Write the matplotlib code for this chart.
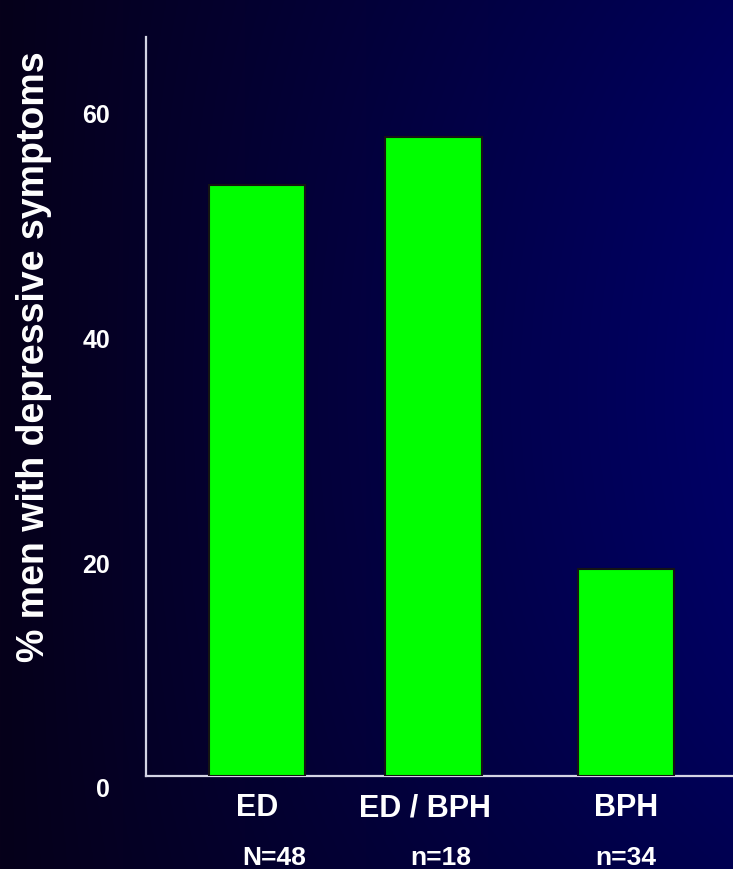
import numpy as np
import matplotlib
matplotlib.use("Agg")
import matplotlib.pyplot as plt
from matplotlib.transforms import ScaledTranslation

plt.rcParams["font.family"] = ["Liberation Sans", "DejaVu Sans"]
plt.rcParams["font.weight"] = "bold"

groups = ["ED", "ED / BPH", "BPH"]
group_sizes = ["N=48", "n=18", "n=34"]
pct_depressed = [52.5, 56.8, 18.4]
y_ticks = [0, 20, 40, 60]

# layout: bar centres and where the text under each bar sits
bar_x = [0.0, 1.0, 2.09]
group_label_x = [0.0, 0.95, 2.09]
size_label_x = [0.10, 1.04, 2.09]

W, H = 733, 870
fig = plt.figure(figsize=(W / 100, H / 100), dpi=100)

# dark navy background, brighter towards the right
bg = fig.add_axes([0, 0, 1, 1], zorder=-10)
xx, yy = np.meshgrid(np.linspace(0, 1, 300), np.linspace(0, 1, 300))
blue = 26 + 76 * xx - 70 * xx * (yy - 0.45) ** 2
red = 6 * (1 - xx)
img = np.dstack([red, np.zeros_like(xx), blue]) / 255.0
bg.imshow(img, aspect="auto", extent=[0, 1, 1, 0])
bg.axis("off")

ax = fig.add_axes([146 / W, 93 / H, (W - 146) / W, (777 - 38) / H])
ax.patch.set_alpha(0)

ax.bar(bar_x, pct_depressed, width=0.544, color="#00ff00",
       edgecolor="#141414", linewidth=1.5, zorder=3)

ax.set_xlim(-0.629, 2.697)
ax.set_ylim(0, 65.7)

for s in ["top", "right"]:
    ax.spines[s].set_visible(False)
for s in ["left", "bottom"]:
    ax.spines[s].set_color("#d4d4e4")
    ax.spines[s].set_linewidth(1.6)

ax.set_xticks([])
ax.set_yticks(y_ticks)
ax.set_yticklabels([str(t) for t in y_ticks])
ax.tick_params(axis="y", length=0, pad=26, labelsize=18, labelcolor="white")
for lbl in ax.get_yticklabels():
    lbl.set_fontweight("bold")
    lbl.set_transform(lbl.get_transform() + ScaledTranslation(0, -0.11, fig.dpi_scale_trans))

for x, name in zip(group_label_x, groups):
    ax.text(x, -0.042, name, transform=ax.get_xaxis_transform(), ha="center", va="center",
            fontsize=22, fontweight="bold", color="white")
for x, n in zip(size_label_x, group_sizes):
    ax.text(x, -0.110, n, transform=ax.get_xaxis_transform(), ha="center", va="center",
            fontsize=19, fontweight="bold", color="white")

fig.text(34 / W, (H - 357) / H, "% men with depressive symptoms", rotation=90,
         ha="center", va="center", fontsize=27, fontweight="bold", color="white")

fig.savefig("out.png", dpi=100, facecolor="black")
